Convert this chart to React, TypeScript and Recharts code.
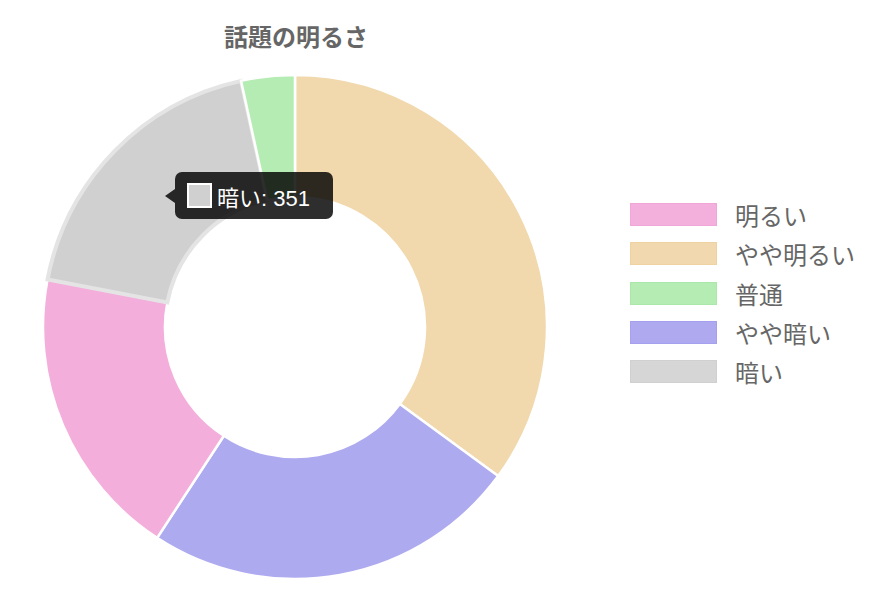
import { PieChart, Pie, Cell, Tooltip, Legend } from 'recharts'

// slices in drawing order, clockwise from 12 o'clock
const sliceNames = ['やや明るい', 'やや暗い', '明るい', '暗い', '普通']
const sliceValues = [664, 457, 356, 351, 65]
const sliceColors = ['#f1d8ad', '#aeaaf0', '#f3aedb', '#d0d0d0', '#b5ecb3']

// legend order as shown on the right
const legendNames = ['明るい', 'やや明るい', '普通', 'やや暗い', '暗い']
const legendColors = ['#f4b0dc', '#f1d8ae', '#b5ecb4', '#afaaf0', '#d6d6d6']
const legendBorders = ['#f0a6d6', '#eed2a2', '#a9e8a8', '#a6a1ee', '#d0d0d0']

const title = '話題の明るさ'
const hoverIndex = 3

const font = '"Noto Sans CJK JP", "Noto Sans", sans-serif'
const tipFont = '"Liberation Sans", "Noto Sans CJK JP", sans-serif'

const chartData = sliceNames.map((name, i) => ({ name, value: sliceValues[i] }))

function TooltipBox({ payload }: any) {
  const item = payload && payload.length ? payload[0] : { name: sliceNames[hoverIndex], value: sliceValues[hoverIndex] }
  return (
    <div style={{ position: 'relative', fontFamily: tipFont }}>
      <div
        style={{
          position: 'absolute',
          left: -10,
          top: 17,
          width: 0,
          height: 0,
          borderTop: '7px solid transparent',
          borderBottom: '7px solid transparent',
          borderRight: '10px solid rgba(0,0,0,0.82)',
        }}
      />
      <div
        style={{
          background: 'rgba(0,0,0,0.82)',
          borderRadius: 7,
          width: 158,
          height: 47,
          boxSizing: 'border-box',
          display: 'flex',
          alignItems: 'center',
          padding: '0 12px',
          color: '#fff',
          fontSize: 22,
        }}
      >
        <span
          style={{
            display: 'inline-block',
            width: 21,
            height: 21,
            flexShrink: 0,
            background: sliceColors[hoverIndex],
            border: '2px solid #fff',
            marginRight: 5,
          }}
        />
        <span style={{ whiteSpace: 'nowrap' }}>{`${item.name}: ${item.value}`}</span>
      </div>
    </div>
  )
}

function LegendList() {
  return (
    <div style={{ fontFamily: font }}>
      {legendNames.map((name, i) => (
        <div key={name} style={{ display: 'flex', alignItems: 'center', height: 39.3 }}>
          <span
            style={{
              display: 'inline-block',
              width: 87,
              height: 23,
              boxSizing: 'border-box',
              background: legendColors[i],
              border: `1px solid ${legendBorders[i]}`,
              marginRight: 18,
            }}
          />
          <span style={{ color: '#666', fontSize: 24 }}>{name}</span>
        </div>
      ))}
    </div>
  )
}

export default function App() {
  return (
    <div style={{ position: 'relative', width: 893, height: 602, background: '#fff' }}>
      <style>{`body{margin:0}`}</style>
      <div
        style={{
          position: 'absolute',
          left: 0,
          width: 592,
          top: 18,
          textAlign: 'center',
          fontFamily: font,
          fontWeight: 700,
          fontSize: 24,
          color: '#666',
        }}
      >
        {title}
      </div>
      <PieChart width={893} height={602}>
        <Pie
          data={chartData}
          dataKey="value"
          nameKey="name"
          cx={290}
          cy={322}
          innerRadius={130}
          outerRadius={252}
          startAngle={90}
          endAngle={-270}
          stroke="#fff"
          strokeWidth={2.5}
          isAnimationActive={false}
        >
          {chartData.map((d, i) => (
            <Cell
              key={d.name}
              fill={sliceColors[i]}
              stroke={i === hoverIndex ? '#e4e4e4' : '#fff'}
              strokeWidth={i === hoverIndex ? 4 : 2.5}
            />
          ))}
        </Pie>
        <Legend
          layout="vertical"
          content={<LegendList />}
          wrapperStyle={{ left: 630, top: 195, width: 260 }}
        />
        <Tooltip
          active
          defaultIndex={hoverIndex}
          position={{ x: 175, y: 172 }}
          content={<TooltipBox />}
          cursor={false}
          isAnimationActive={false}
          wrapperStyle={{ outline: 'none' }}
        />
      </PieChart>
    </div>
  )
}
